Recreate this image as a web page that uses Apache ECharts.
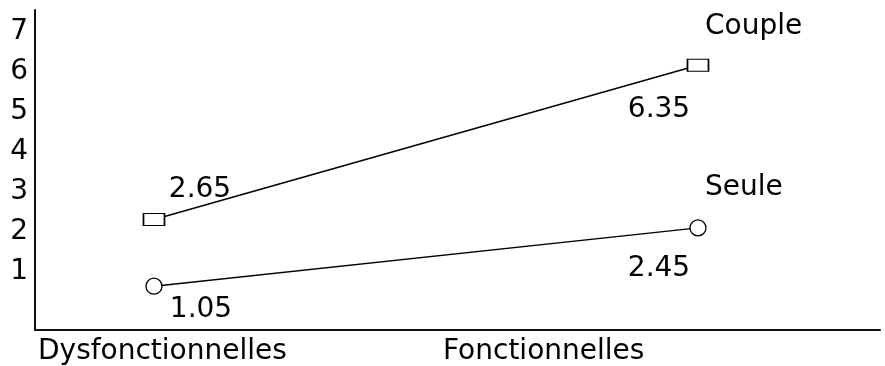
<!DOCTYPE html>
<html>
<head>
<meta charset="utf-8">
<script src="https://cdn.jsdelivr.net/npm/echarts@6/dist/echarts.min.js"></script>
<style>
  html, body { margin: 0; padding: 0; background: #fff; }
  #chart { width: 885px; height: 366px; }
</style>
</head>
<body>
<div id="chart"></div>
<script>
const categories = ['Dysfonctionnelles', 'Fonctionnelles'];
const categoryPos = [0, 1];
const yTicks = [1, 2, 3, 4, 5, 6, 7];
const couple = [2.65, 6.35];
const seule = [1.05, 2.45];

const font = 'DejaVu Sans';
const fs = 28;

const chartDom = document.getElementById('chart');
const myChart = echarts.init(chartDom);

// label offsets (px) for each point, relative to the marker
const coupleOffsets = [[46, -30], [-39, 45]];
const seuleOffsets = [[47, 24], [-39, 41]];

function points(values, offsets) {
  return values.map((v, i) => ({
    value: [categoryPos[i], v],
    label: {
      show: true,
      position: 'inside',
      offset: offsets[i],
      formatter: () => v.toFixed(2),
      color: '#000',
      fontFamily: font,
      fontSize: fs
    }
  }));
}

const lineSeries = (name, values, offsets, symbol, size, endOffset) => ({
  name,
  type: 'line',
  xAxisIndex: 0,
  yAxisIndex: 0,
  data: points(values, offsets),
  symbol,
  symbolSize: size,
  lineStyle: { color: '#000', width: 1.4 },
  itemStyle: { color: '#fff', borderColor: '#000', borderWidth: 1.3 },
  endLabel: {
    show: true,
    formatter: '{a}',
    distance: 0,
    offset: endOffset,
    color: '#000',
    fontFamily: font,
    fontSize: fs
  },
  emphasis: { disabled: true },
  z: 3
});

const option = {
  animation: false,
  backgroundColor: '#fff',
  grid: { left: 35, right: 5, top: 10, bottom: 35 },
  xAxis: [
    {
      type: 'value',
      min: -0.21875,
      max: 1.3346,
      axisLine: { show: true, onZero: false, lineStyle: { color: '#111', width: 2 } },
      axisTick: { show: false },
      axisLabel: { show: false },
      splitLine: { show: false }
    },
    {
      type: 'value',
      position: 'bottom',
      min: -0.0074,
      max: 2.079,
      axisLine: { show: false },
      axisTick: { show: false },
      splitLine: { show: false },
      axisLabel: {
        customValues: categoryPos,
        formatter: (v) => categories[Math.round(v)],
        align: 'left',
        margin: 8,
        color: '#000',
        fontFamily: font,
        fontSize: fs
      }
    }
  ],
  yAxis: [
    {
      type: 'value',
      min: 0,
      max: 7.674,
      axisLine: { show: true, onZero: false, lineStyle: { color: '#111', width: 2 } },
      axisTick: { show: false },
      axisLabel: { show: false },
      splitLine: { show: false }
    },
    {
      type: 'value',
      position: 'left',
      min: -0.443,
      max: 7.548,
      axisLine: { show: false, onZero: false },
      axisTick: { show: false },
      splitLine: { show: false },
      axisLabel: {
        customValues: yTicks,
        formatter: (v) => String(Math.round(v)),
        margin: 7,
        color: '#000',
        fontFamily: font,
        fontSize: fs
      }
    }
  ],
  series: [
    lineSeries('Couple', couple, coupleOffsets, 'rect', [21, 12], [7, -38]),
    lineSeries('Seule', seule, seuleOffsets, 'circle', 16, [7, -40])
  ]
};

myChart.setOption(option);
</script>
</body>
</html>
